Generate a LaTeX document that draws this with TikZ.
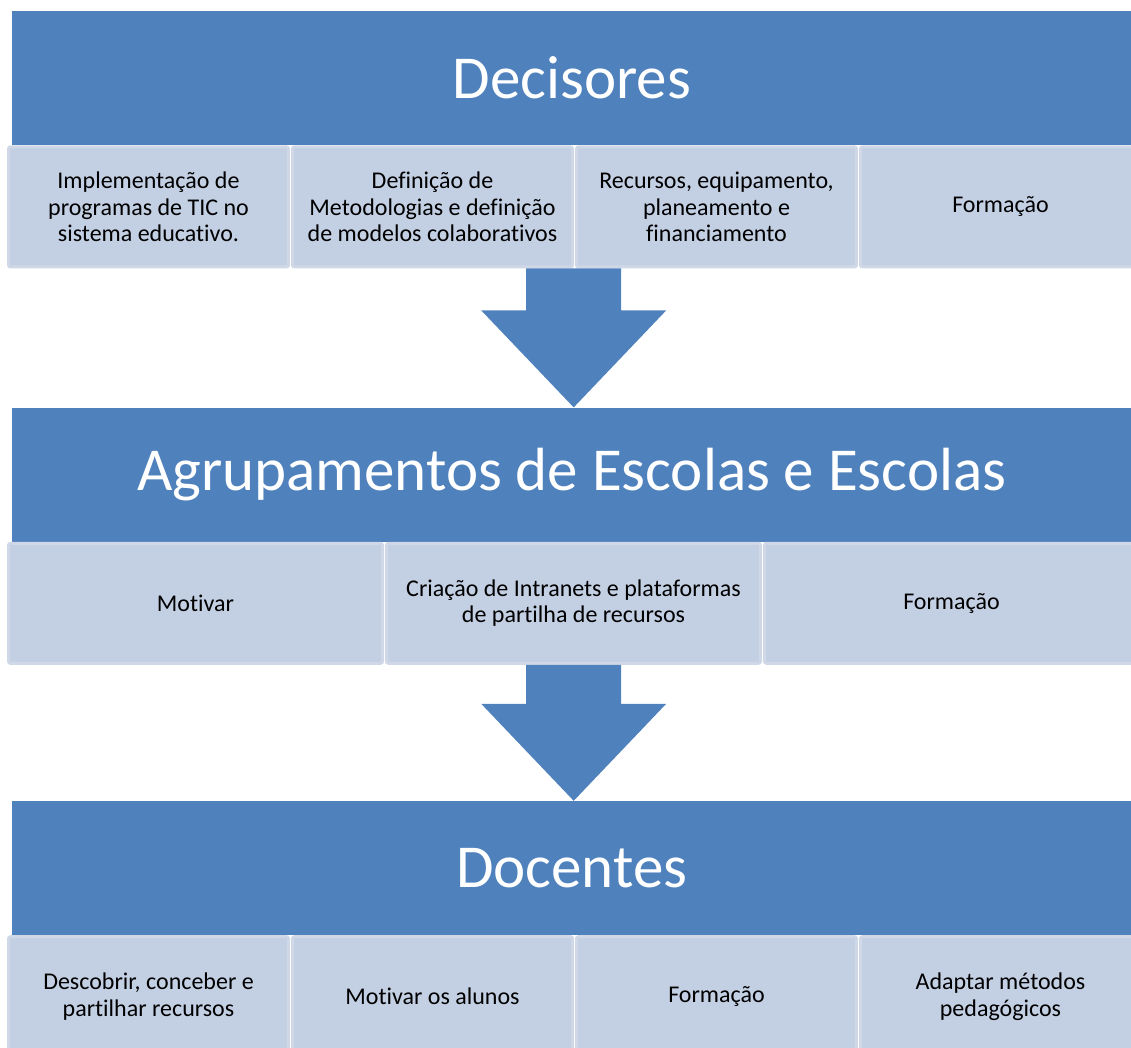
\documentclass[tikz,border=0pt]{standalone}
\usepackage{fontspec}
\setmainfont{Carlito}[Ligatures=NoCommon]
\usetikzlibrary{positioning,calc}
\definecolor{headblue}{HTML}{4F81BD}
\definecolor{cellfill}{HTML}{C3CFE3}
\definecolor{cellline}{HTML}{D0D8E8}

\begin{document}
\begin{tikzpicture}[x=1pt,y=-1pt,node distance=1pt]
    \tikzstyle{head}=[fill=headblue,text=white,minimum width=1119pt,minimum height=134pt,inner sep=0pt,anchor=north west,font=\fontsize{61}{66}\selectfont]
    \tikzstyle{cell}=[fill=cellfill,draw=cellline,line width=3pt,rounded corners=2pt,minimum height=120pt,inner sep=0pt,align=center,font=\fontsize{24}{26.5}\selectfont]
    \tikzstyle{cellq}=[cell,minimum width=280pt]
    \tikzstyle{cellt}=[cell,minimum width=374pt]
    \useasboundingbox (0,0) rectangle (1131,1048);
    \clip (0,0) rectangle (1131,1048);
    % Decisores
    \node[head] (dec) at (12,11) {Decisores};
    \node[cellq,anchor=north west,xshift=-5pt] (dec1) at (dec.south west) {Implementação de\\programas de TIC no\\sistema educativo.};
    \node[cellq,right=of dec1] (dec2) {Definição de\\Metodologias e definição\\de modelos colaborativos};
    \node[cellq,right=of dec2] (dec3) {Recursos, equipamento,\\planeamento e\\financiamento};
    \node[cellq,right=of dec3] (dec4) {Formação};
    % Agrupamentos
    \node[head,below=262pt of dec.south west,anchor=north west] (agr) {Agrupamentos de Escolas e Escolas};
    \node[cellt,anchor=north west,xshift=-5pt] (agr1) at (agr.south west) {Motivar};
    \node[cellt,right=of agr1] (agr2) {Criação de Intranets e plataformas\\de partilha de recursos};
    \node[cellt,right=of agr2] (agr3) {Formação};
    % Docentes
    \node[head,below=259pt of agr.south west,anchor=north west] (doc) {Docentes};
    \node[cellq,anchor=north west,xshift=-5pt] (doc1) at (doc.south west) {Descobrir, conceber e\\partilhar recursos};
    \node[cellq,right=of doc1] (doc2) {Motivar os alunos};
    \node[cellq,right=of doc2] (doc3) {Formação};
    \node[cellq,right=of doc3] (doc4) {Adaptar métodos\\pedagógicos};
    % block arrows
    \fill[headblue] let \p1=($(agr.north)+(2,0)$), \p2=(dec2.south) in
        (\x1-47.5pt,\y2) -- (\x1+47.5pt,\y2) -- (\x1+47.5pt,\y1+97pt) -- (\x1+92.5pt,\y1+97pt)
        -- (\x1,\y1) -- (\x1-92.5pt,\y1+97pt) -- (\x1-47.5pt,\y1+97pt) -- cycle;
    \fill[headblue] let \p1=($(doc.north)+(2,0)$), \p2=(agr2.south) in
        (\x1-47.5pt,\y2) -- (\x1+47.5pt,\y2) -- (\x1+47.5pt,\y1+97pt) -- (\x1+92.5pt,\y1+97pt)
        -- (\x1,\y1) -- (\x1-92.5pt,\y1+97pt) -- (\x1-47.5pt,\y1+97pt) -- cycle;
\end{tikzpicture}
\end{document}
